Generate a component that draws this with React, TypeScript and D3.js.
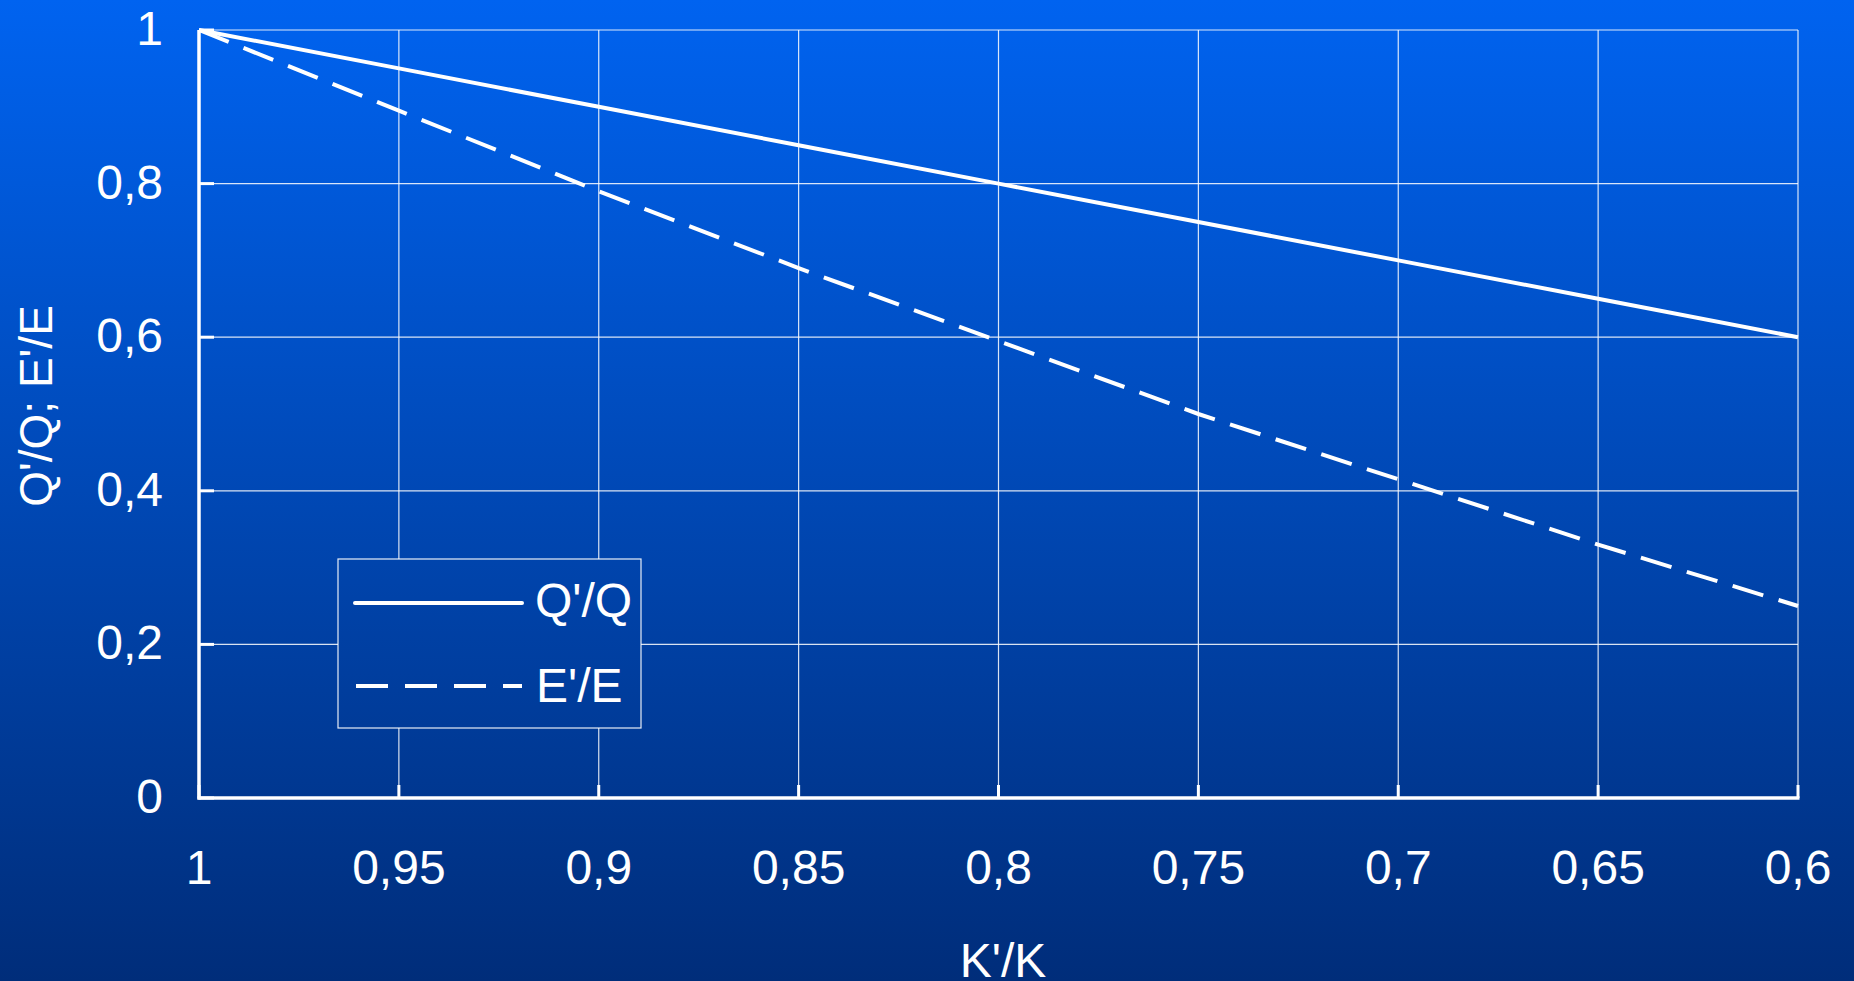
import React from "react";
import * as d3 from "d3";

const kValues = [1, 0.95, 0.9, 0.85, 0.8, 0.75, 0.7, 0.65, 0.6];
const qValues = [1, 0.95, 0.9, 0.85, 0.8, 0.75, 0.7, 0.65, 0.6];
const eValues = [1, 0.895, 0.79, 0.69, 0.595, 0.5, 0.415, 0.33, 0.25];
const xTicks = [1, 0.95, 0.9, 0.85, 0.8, 0.75, 0.7, 0.65, 0.6];
const yTicks = [0, 0.2, 0.4, 0.6, 0.8, 1];
const seriesNames = ["Q'/Q", "E'/E"];
const xTitle = "K'/K";
const yTitle = "Q'/Q; E'/E";

const W = 1854;
const H = 981;
const FONT = "'Liberation Sans', Arial, sans-serif";

export default function App() {
  const x = d3.scaleLinear().domain([1, 0.6]).range([199, 1798]);
  const y = d3.scaleLinear().domain([0, 1]).range([798, 30]);
  const fmt = (v: number) => d3.format("~g")(v).replace(".", ",");
  const line = d3
    .line<number>()
    .x((_, i) => x(kValues[i]))
    .y((d) => y(d));

  const grid = "rgba(255,255,255,0.85)";

  return (
    <svg
      width={W}
      height={H}
      style={{ position: "fixed", left: 0, top: 0, display: "block" }}
      fontFamily={FONT}
    >
      <defs>
        <linearGradient id="bg" gradientUnits="userSpaceOnUse" x1="0" y1="0" x2="0" y2={H}>
          <stop offset="0" stopColor="#0063F0" />
          <stop offset="1" stopColor="#002D7A" />
        </linearGradient>
      </defs>
      <rect x={0} y={0} width={W} height={H} fill="url(#bg)" />

      {/* grid */}
      {xTicks
        .filter((t) => t !== 1)
        .map((t) => (
          <line key={"gx" + t} x1={x(t)} x2={x(t)} y1={y(0)} y2={y(1)} stroke={grid} strokeWidth={1.2} />
        ))}
      {yTicks
        .filter((t) => t !== 0)
        .map((t) => (
          <line key={"gy" + t} x1={x(1)} x2={x(0.6)} y1={y(t)} y2={y(t)} stroke={grid} strokeWidth={1.2} />
        ))}

      {/* data */}
      <path d={line(qValues) || ""} fill="none" stroke="#fff" strokeWidth={4} />
      <path d={line(eValues) || ""} fill="none" stroke="#fff" strokeWidth={4} strokeDasharray="32,16" />

      {/* axes */}
      <line x1={x(1)} x2={x(1)} y1={y(1)} y2={y(0) + 1.5} stroke="#fff" strokeWidth={3.5} />
      <line x1={x(1) - 1.5} x2={x(0.6) + 1.5} y1={y(0)} y2={y(0)} stroke="#fff" strokeWidth={3.5} />
      {yTicks.map((t) => (
        <line key={"ty" + t} x1={x(1)} x2={x(1) + 15} y1={y(t)} y2={y(t)} stroke="#fff" strokeWidth={3} />
      ))}
      {xTicks.map((t) => (
        <line key={"tx" + t} x1={x(t)} x2={x(t)} y1={y(0)} y2={y(0) - 13} stroke="#fff" strokeWidth={3} />
      ))}

      {/* tick labels */}
      {yTicks.map((t) => (
        <text key={"ly" + t} x={163} y={y(t) + 15} fill="#fff" fontSize={48} textAnchor="end">
          {fmt(t)}
        </text>
      ))}
      {xTicks.map((t) => (
        <text key={"lx" + t} x={x(t)} y={884} fill="#fff" fontSize={48} textAnchor="middle">
          {fmt(t)}
        </text>
      ))}

      {/* titles */}
      <text x={1003} y={977} fill="#fff" fontSize={48} textAnchor="middle">
        {xTitle}
      </text>
      <text
        transform="translate(52,406) rotate(-90)"
        fill="#fff"
        fontSize={46}
        textAnchor="middle"
      >
        {yTitle}
      </text>

      {/* legend */}
      <rect x={338} y={559} width={303} height={169} fill="url(#bg)" stroke="rgba(255,255,255,0.9)" strokeWidth={1.2} />
      <line x1={355} x2={522} y1={603} y2={603} stroke="#fff" strokeWidth={4} strokeLinecap="round" />
      <line x1={356} x2={522} y1={686} y2={686} stroke="#fff" strokeWidth={4} strokeDasharray="32,17" />
      <text x={535} y={617} fill="#fff" fontSize={48}>
        {seriesNames[0]}
      </text>
      <text x={536} y={702} fill="#fff" fontSize={48}>
        {seriesNames[1]}
      </text>
    </svg>
  );
}
